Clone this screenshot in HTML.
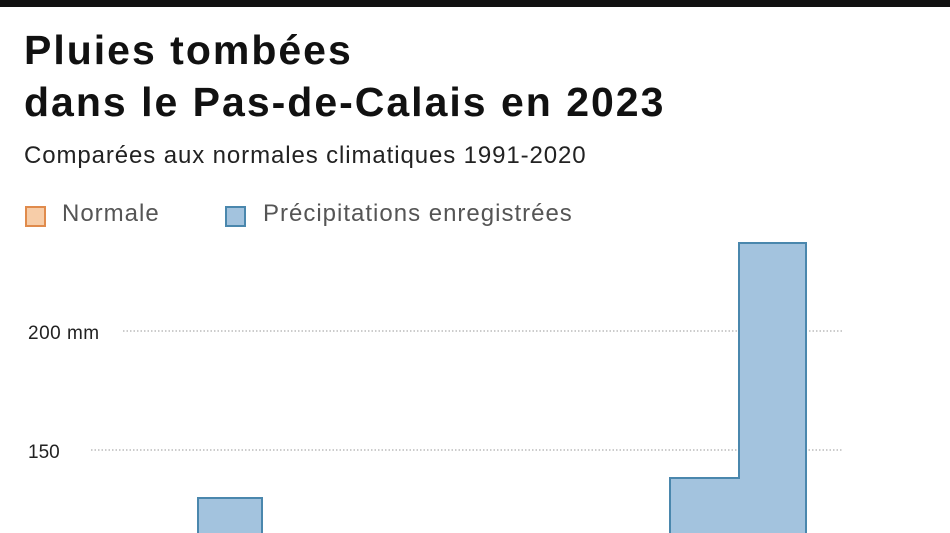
<!DOCTYPE html>
<html><head><meta charset="utf-8"><style>
body{margin:0;width:950px;height:533px;overflow:hidden;background:#fff;font-family:"Liberation Sans",sans-serif;position:relative}
.t{position:absolute;left:24px;font-weight:bold;font-size:41px;letter-spacing:2px;color:#111;line-height:46px}
</style></head><body>
<div style="position:absolute;left:0;top:0;width:950px;height:7px;background:#111"></div>
<div class="t" style="top:27px">Pluies tombées</div>
<div class="t" style="top:79px">dans le Pas-de-Calais en 2023</div>
<div style="position:absolute;left:24px;top:142px;font-size:24px;color:#222;letter-spacing:0.9px">Comparées aux normales climatiques 1991-2020</div>
<div style="position:absolute;left:25px;top:206px;width:21px;height:21px;background:#f7cda8;border:2px solid #e08b4c;box-sizing:border-box"></div>
<div style="position:absolute;left:62px;top:200px;font-size:24px;color:#555;letter-spacing:1px">Normale</div>
<div style="position:absolute;left:225px;top:206px;width:21px;height:21px;background:#a3c3de;border:2px solid #4a87ad;box-sizing:border-box"></div>
<div style="position:absolute;left:263px;top:200px;font-size:24px;color:#555;letter-spacing:1px">Précipitations enregistrées</div>
<svg width="950" height="533" style="position:absolute;left:0;top:0">
<line x1="123" y1="331" x2="843" y2="331" stroke="#999" stroke-dasharray="1.5,2"/>
<line x1="91" y1="450" x2="843" y2="450" stroke="#999" stroke-dasharray="1.5,2"/>
<text x="28" y="339" font-size="19" fill="#222" font-family="Liberation Sans" letter-spacing="0.5">200 mm</text>
<text x="28" y="458" font-size="19" fill="#222" font-family="Liberation Sans">150</text>
<rect x="198" y="498" width="64" height="40" fill="#a3c3de" stroke="#4a87ad" stroke-width="2"/>
<path d="M670 540 V478 H739 V243 H806 V540" fill="#a3c3de" stroke="#4a87ad" stroke-width="2"/>
</svg>
</body></html>
